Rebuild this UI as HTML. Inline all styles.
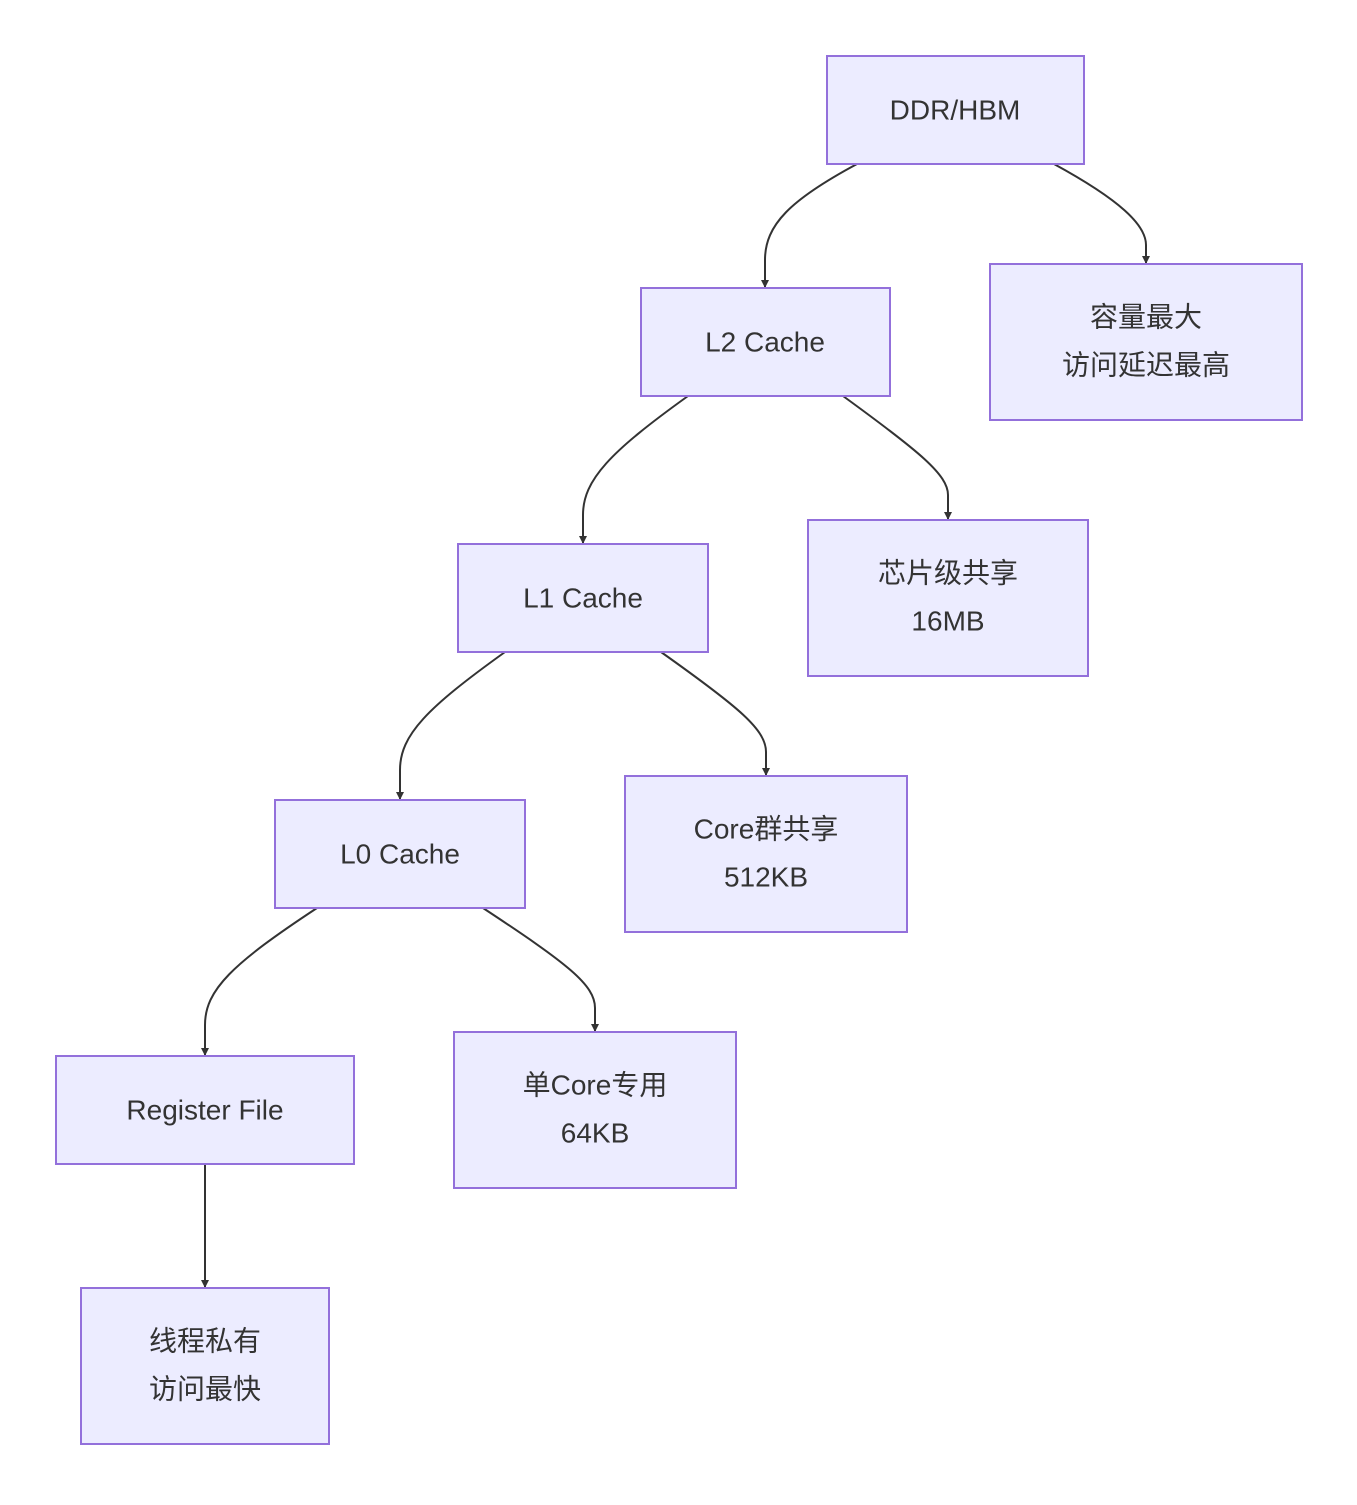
<!DOCTYPE html>
<html><head><meta charset="utf-8"><style>
html,body{margin:0;padding:0;background:#fff;}
svg text{font-family:"Liberation Sans","Noto Sans CJK SC",sans-serif;font-size:28px;fill:#333;text-anchor:middle;dominant-baseline:central;}
.n{fill:#ECECFF;stroke:#9370DB;stroke-width:2;}
.e{fill:none;stroke:#333;stroke-width:2;}
</style></head><body>
<svg width="1357" height="1500" viewBox="0 0 1357 1500" xmlns="http://www.w3.org/2000/svg">
<defs><marker id="a" viewBox="0 0 10 10" refX="10" refY="5" markerWidth="8" markerHeight="8" markerUnits="userSpaceOnUse" orient="auto"><path d="M0,0L10,5L0,10z" fill="#333"/></marker></defs>
<g>
<path class="e" marker-end="url(#a)" d="M857,164 C790,200 765,225 765,260 L765,288"/>
<path class="e" marker-end="url(#a)" d="M1054,164 C1120,200 1146,225 1146,245 L1146,264"/>
<path class="e" marker-end="url(#a)" d="M688,396 C610,452 583,480 583,515 L583,544"/>
<path class="e" marker-end="url(#a)" d="M843,396 C920,452 948,475 948,495 L948,520"/>
<path class="e" marker-end="url(#a)" d="M505,652 C427,708 400,735 400,770 L400,800"/>
<path class="e" marker-end="url(#a)" d="M661,652 C740,708 766,730 766,752 L766,776"/>
<path class="e" marker-end="url(#a)" d="M317,908 C232,964 205,990 205,1025 L205,1056"/>
<path class="e" marker-end="url(#a)" d="M483,908 C568,964 595,985 595,1008 L595,1032"/>
<path class="e" marker-end="url(#a)" d="M205,1164 L205,1288"/>
</g>
<rect class="n" x="827" y="56" width="257" height="108"/><text x="955" y="110">DDR/HBM</text>
<rect class="n" x="990" y="264" width="312" height="156"/><text x="1146" y="317">容量最大</text><text x="1146" y="365">访问延迟最高</text>
<rect class="n" x="641" y="288" width="249" height="108"/><text x="765" y="342">L2 Cache</text>
<rect class="n" x="808" y="520" width="280" height="156"/><text x="948" y="573">芯片级共享</text><text x="948" y="621">16MB</text>
<rect class="n" x="458" y="544" width="250" height="108"/><text x="583" y="598">L1 Cache</text>
<rect class="n" x="625" y="776" width="282" height="156"/><text x="766" y="829">Core群共享</text><text x="766" y="877">512KB</text>
<rect class="n" x="275" y="800" width="250" height="108"/><text x="400" y="854">L0 Cache</text>
<rect class="n" x="454" y="1032" width="282" height="156"/><text x="595" y="1085">单Core专用</text><text x="595" y="1133">64KB</text>
<rect class="n" x="56" y="1056" width="298" height="108"/><text x="205" y="1110">Register File</text>
<rect class="n" x="81" y="1288" width="248" height="156"/><text x="205" y="1341">线程私有</text><text x="205" y="1389">访问最快</text>
</svg>
</body></html>
